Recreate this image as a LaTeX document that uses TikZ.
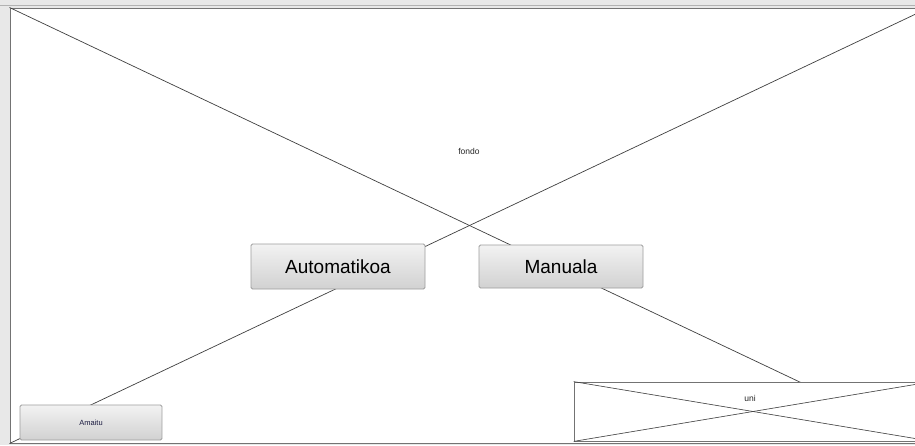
\documentclass[tikz,border=0pt]{standalone}
\usepackage{fontspec}
\setmainfont{Liberation Sans}
\begin{document}
\begin{tikzpicture}[x=1pt,y=-1pt,
  wire/.style={draw=black!75,line width=0.7pt},
  placeholder/.style={rectangle,draw=black!55,line width=1pt,fill=white,inner sep=0pt},
  button/.style={rectangle,rounded corners=1.5pt,draw=black!38,line width=0.8pt,inner sep=0pt,
    top color=white!95!black,middle color=white!90!black,bottom color=white!82!black},
  caption/.style={font=\fontsize{8.5}{10}\selectfont,text=black!85}
]
\useasboundingbox (0,0) rectangle (915,445);
\clip (0,0) rectangle (915,445);
\fill[black!9] (0,0) rectangle (915,445);

% background panel with its crossed placeholder diagonals
\node[placeholder,minimum width=919pt,minimum height=435pt] (fondo) at (469.5,225.5) {};
\draw[black!30,line width=1.5pt] (0,5.5) -- (915,5.5);
\draw[wire] (fondo.north west) -- (fondo.south east);
\draw[wire] (fondo.south west) -- (fondo.north east);
\node[caption] (fondolbl) at (469,151) {fondo};

% mode buttons
\node[button,minimum width=174pt,minimum height=45pt] (auto) at (338,266.5)
  {\fontsize{19}{22}\selectfont Automatikoa};
\node[button,minimum width=164pt,minimum height=43pt] (manual) at (561,266.5)
  {\fontsize{19}{22}\selectfont Manuala};

% exit button
\node[button,minimum width=142pt,minimum height=35pt] (amaitu) at (91,422.5)
  {\fontsize{7.5}{9}\selectfont\color[HTML]{1A1A40}Amaitu};

% unit placeholder
\node[placeholder,line width=0.8pt,minimum width=358pt,minimum height=59pt] (uni) at (753,411.5) {};
\draw[wire,line width=0.6pt] (uni.north west) -- (uni.south east);
\draw[wire,line width=0.6pt] (uni.south west) -- (uni.north east);
\node[caption] (unilbl) at (750,398) {uni};
\end{tikzpicture}
\end{document}
